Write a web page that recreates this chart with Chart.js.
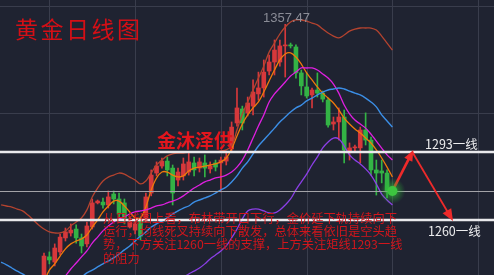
<!DOCTYPE html>
<html>
<head>
<meta charset="utf-8">
<script src="https://cdn.jsdelivr.net/npm/chart.js@4.4.0/dist/chart.umd.min.js"></script>
<style>
html, body { margin: 0; padding: 0; background: #1f2331; }
canvas { display: block; }
</style>
</head>
<body>
<canvas id="myChart" width="494" height="275"></canvas>
<script>
// trading days shown as candles (index 0 = first visible candle)
const days = [0,1,2,3,4,5,6,7,8,9,10,11,12,13,14,15,16,17,18,19,20,21,22,23,24,25,26,27,28,29,
  30,31,32,33,34,35,36,37,38,39,40,41,42,43,44,45,46,47,48,49,50,51,52,53,54,55,56,57,58,59,60,61,62,63,64,65];
// indicator lines start a bit earlier, off the left edge
const lineDays = [-8,-7,-6,-5,-4,-3,-2,-1].concat(days);

const open = [1229.9,1242.1,1239.6,1244.5,1251.3,1253.7,1255.6,1251.3,1248.4,1256.6,
  1268.3,1268.7,1267.3,1272.6,1270.2,1268.3,1256.6,1255.1,1260.0,1261.0,
  1273.1,1282.8,1286.2,1288.6,1285.2,1279.4,1281.4,1283.3,1287.7,1285.2,
  1287.7,1284.8,1287.7,1287.7,1288.6,1294.5,1307.1,1313.9,1312.0,1315.3,
  1321.2,1324.1,1332.3,1336.7,1336.7,1344.5,1345.0,1344.0,1331.4,1324.6,
  1320.7,1323.1,1321.6,1318.2,1306.6,1307.6,1310.0,1293.5,1295.0,1295.0,
  1303.7,1298.8,1284.3,1283.8,1282.8,1274.6];
const high = [1244.0,1244.5,1248.4,1253.2,1256.1,1258.1,1257.6,1253.2,1259.0,1270.2,
  1269.7,1270.7,1274.1,1274.1,1273.1,1270.2,1261.5,1260.5,1261.5,1273.1,
  1284.3,1288.2,1290.1,1290.6,1286.7,1285.2,1290.1,1293.0,1290.6,1290.1,
  1291.6,1288.2,1289.1,1290.6,1292.5,1307.6,1324.1,1315.3,1319.7,1328.0,
  1331.8,1337.7,1340.1,1347.4,1347.4,1355.0,1345.9,1345.0,1332.8,1331.4,
  1324.1,1331.4,1322.6,1319.2,1310.0,1314.4,1313.4,1297.4,1296.4,1305.1,
  1312.0,1300.3,1289.1,1289.1,1284.3,1275.5];
const low = [1228.5,1238.7,1237.7,1243.0,1249.8,1252.2,1248.8,1244.0,1246.9,1255.6,
  1267.8,1265.8,1265.8,1267.8,1261.0,1258.1,1256.1,1253.2,1250.3,1259.0,
  1271.7,1281.4,1285.2,1281.4,1267.3,1276.5,1279.4,1281.8,1281.4,1283.3,
  1280.9,1282.8,1283.8,1273.6,1286.7,1293.0,1305.6,1303.7,1310.5,1311.0,
  1318.2,1319.7,1330.4,1330.4,1334.7,1329.4,1343.5,1328.9,1320.7,1319.2,
  1314.4,1319.7,1317.3,1305.1,1303.7,1298.8,1287.7,1289.1,1293.0,1287.7,
  1296.4,1281.8,1272.1,1278.0,1270.7,1272.6];
const close = [1242.5,1240.6,1246.4,1251.7,1254.2,1255.1,1251.3,1247.4,1257.1,1268.3,
  1269.2,1267.3,1271.2,1270.2,1262.9,1261.0,1259.0,1258.1,1252.2,1271.2,
  1281.8,1286.2,1288.6,1284.3,1273.1,1283.3,1287.2,1288.2,1284.3,1288.2,
  1285.2,1286.2,1285.7,1289.1,1290.6,1305.1,1314.4,1307.1,1316.8,1322.1,
  1324.1,1331.8,1336.7,1342.5,1344.5,1345.0,1344.5,1331.4,1325.1,1320.2,
  1323.1,1321.6,1318.7,1306.1,1307.6,1310.0,1294.0,1295.0,1295.4,1303.7,
  1298.8,1284.3,1282.8,1282.8,1273.6,1274.1];

// Bollinger upper / lower and moving averages (aligned with lineDays)
const bollUpper = [1267.3,1266.8,1266.3,1265.3,1264.4,1262.4,1260.0,1257.6,
  1255.6,1254.2,1253.7,1253.7,1254.7,1257.1,1259.0,1261.0,1264.9,1271.2,
  1275.5,1278.9,1280.8,1281.8,1282.8,1282.3,1280.8,1279.4,1277.5,1278.9,
  1282.8,1286.7,1289.1,1291.1,1292.1,1292.5,1292.5,1293.0,1293.0,1293.0,
  1293.0,1293.0,1293.0,1293.5,1294.0,1295.9,1303.7,1311.5,1317.3,1323.1,
  1328.9,1334.7,1341.5,1345.9,1350.3,1353.7,1356.1,1357.1,1357.1,1356.6,
  1355.6,1354.7,1352.7,1350.8,1349.3,1348.4,1349.8,1351.7,1352.7,1353.2,
  1353.2,1353.2,1352.2,1349.3,1345.9,1342.5];
const ma5 = [null,null,null,null,null,null,null,null,
  1229.9,1235.7,1238.7,1242.5,1246.0,1248.4,1249.8,1250.8,1252.7,1256.6,
  1260.0,1263.9,1266.8,1269.2,1269.2,1266.8,1263.9,1261.0,1261.0,1266.3,
  1274.6,1280.4,1283.3,1283.3,1281.8,1280.9,1281.4,1283.8,1285.2,1285.7,
  1286.2,1286.7,1287.2,1288.2,1290.1,1294.5,1300.8,1306.6,1311.0,1314.4,
  1317.3,1322.1,1327.5,1332.8,1337.7,1340.6,1341.1,1339.1,1335.7,1331.4,
  1328.0,1324.6,1321.6,1319.2,1316.8,1313.4,1309.5,1306.6,1304.2,1302.2,
  1299.8,1297.4,1294.0,1290.1,1285.7,1280.9];
const ma20 = [null,null,null,null,null,null,null,null,
  1221.2,1223.6,1226.5,1229.4,1232.8,1236.2,1239.1,1242.1,1245.0,1248.8,
  1251.7,1254.7,1257.1,1259.0,1260.5,1261.5,1262.9,1263.9,1264.4,1264.9,
  1265.8,1266.8,1267.3,1268.3,1269.2,1270.2,1271.7,1273.6,1275.5,1277.0,
  1278.5,1279.4,1280.4,1280.9,1281.8,1283.3,1285.7,1289.1,1294.0,1299.8,
  1305.6,1311.0,1317.3,1321.2,1324.1,1327.0,1329.9,1331.8,1333.8,1333.8,
  1333.8,1332.8,1330.9,1328.9,1326.0,1321.6,1315.8,1311.5,1308.5,1306.6,
  1304.6,1301.7,1298.3,1294.9,1291.6,1289.1];
const ma60 = [1239.6,1238.2,1236.7,1235.2,1233.8,1232.3,1230.9,1229.9,
  1228.9,1228.0,1227.5,1227.5,1228.0,1228.9,1230.4,1232.3,1234.3,1235.7,
  1237.2,1238.7,1240.1,1241.6,1243.5,1245.5,1247.4,1249.8,1252.2,1254.2,
  1256.6,1258.1,1259.5,1261.0,1262.9,1264.4,1265.8,1266.8,1268.7,1269.7,
  1270.7,1271.7,1273.1,1274.6,1276.0,1278.5,1281.4,1285.2,1288.2,1292.1,
  1295.9,1298.8,1301.7,1304.6,1307.6,1310.0,1312.4,1314.4,1315.8,1317.8,
  1319.2,1320.7,1322.1,1323.1,1323.6,1324.1,1323.6,1322.6,1321.6,1320.7,
  1319.2,1317.3,1314.9,1311.0,1308.1,1305.1];
const bollLower = [null,null,null,null,null,null,null,null,
  null,null,null,null,null,null,null,null,null,null,
  null,null,null,null,null,null,null,null,null,null,
  1221.2,1223.1,1225.0,1227.5,1229.4,1230.9,1232.3,1233.8,1235.2,1236.7,
  1238.7,1241.1,1243.0,1245.0,1247.4,1251.3,1255.6,1260.5,1264.4,1265.3,
  1265.3,1264.4,1263.4,1263.4,1264.9,1267.3,1270.2,1274.6,1278.5,1282.3,
  1286.7,1290.6,1295.0,1297.9,1299.8,1299.3,1295.9,1291.6,1289.1,1287.2,
  1284.8,1281.8,1277.5,1272.6,1269.7,1267.3];

// key levels and the forecast path
const resistance = 1293;
const support = 1260;
const peakLabel = '1357.47';
const arrowDays = [65, 68.9, 76.3];
const arrowPrices = [1274.1, 1294, 1259.5];
const gridX = [1, 17, 33, 49, 65, 81];
const gridY = [1260, 1312, 1364];

const textLines = [
  '从日线图上看，布林带开口下行，金价延下轨持续向下',
  '运行，均线死叉持续向下散发，总体来看依旧是空头趋',
  '势，下方关注1260一线的支撑，上方关注矩线1293一线',
  '的阻力'
];

const RED = '#d6383b';
const GREEN = '#33b345';

function drawArrow(ctx, x1, y1, x2, y2, width, head, half) {
    const a = Math.atan2(y2 - y1, x2 - x1);
    const c = Math.cos(a), s = Math.sin(a);
    ctx.lineWidth = width;
    ctx.beginPath();
    ctx.moveTo(x1, y1);
    ctx.lineTo(x2 - head * 0.8 * c, y2 - head * 0.8 * s);
    ctx.stroke();
    ctx.beginPath();
    ctx.moveTo(x2, y2);
    ctx.lineTo(x2 - head * c + half * s, y2 - head * s - half * c);
    ctx.lineTo(x2 - head * c - half * s, y2 - head * s + half * c);
    ctx.closePath();
    ctx.fill();
}

const decorPlugin = {
    id: 'decor',
    beforeDraw(chart) {
        const ctx = chart.ctx;
        ctx.save();
        ctx.fillStyle = '#1f2331';
        ctx.fillRect(0, 0, chart.width, chart.height);
        ctx.restore();
    },
    beforeDatasetsDraw(chart) {
        const ctx = chart.ctx;
        const xs = chart.scales.x, ys = chart.scales.y;
        ctx.save();
        ctx.strokeStyle = '#393d4c';
        ctx.lineWidth = 1;
        gridX.forEach(v => {
            const px = Math.round(xs.getPixelForValue(v)) + 0.5;
            ctx.beginPath(); ctx.moveTo(px, 0); ctx.lineTo(px, chart.height); ctx.stroke();
        });
        gridY.forEach(v => {
            const py = Math.round(ys.getPixelForValue(v)) + 0.5;
            ctx.beginPath(); ctx.moveTo(0, py); ctx.lineTo(chart.width, py); ctx.stroke();
        });
        ctx.restore();
    },
    afterDatasetsDraw(chart) {
        const ctx = chart.ctx;
        const xs = chart.scales.x, ys = chart.scales.y;
        const W = chart.width;
        ctx.save();

        // current price line
        const last = close[close.length - 1];
        const pyLast = Math.round(ys.getPixelForValue(last)) + 0.5;
        ctx.strokeStyle = '#a3a3a8';
        ctx.lineWidth = 1;
        ctx.beginPath(); ctx.moveTo(0, pyLast); ctx.lineTo(W, pyLast); ctx.stroke();

        // resistance / support lines
        ctx.strokeStyle = '#e9e9ec';
        ctx.lineWidth = 2.5;
        [resistance, support].forEach(v => {
            const py = ys.getPixelForValue(v);
            ctx.beginPath(); ctx.moveTo(0, py); ctx.lineTo(W, py); ctx.stroke();
        });

        // forecast arrows
        const ax = arrowDays.map(d => xs.getPixelForValue(d));
        const ay = arrowPrices.map(p => ys.getPixelForValue(p));
        ctx.strokeStyle = '#ee2a2a';
        ctx.fillStyle = '#ee2a2a';
        drawArrow(ctx, ax[0], ay[0], ax[1], ay[1], 2.6, 11, 4.5);
        drawArrow(ctx, ax[1] - 1, ay[1] + 2, ax[2], ay[2], 1.8, 12, 5);

        // glowing current-price dot
        const dx = xs.getPixelForValue(days[days.length - 1]);
        const dy = ys.getPixelForValue(last);
        const g = ctx.createRadialGradient(dx, dy, 0, dx, dy, 13);
        g.addColorStop(0, 'rgba(70,215,70,0.85)');
        g.addColorStop(0.45, 'rgba(50,190,55,0.45)');
        g.addColorStop(1, 'rgba(40,170,50,0)');
        ctx.fillStyle = g;
        ctx.beginPath(); ctx.arc(dx, dy, 13, 0, Math.PI * 2); ctx.fill();
        ctx.fillStyle = '#3cc43f';
        ctx.beginPath(); ctx.arc(dx, dy, 5, 0, Math.PI * 2); ctx.fill();

        // texts
        ctx.textBaseline = 'middle';
        ctx.textAlign = 'left';
        ctx.fillStyle = '#d40f16';
        ctx.font = '23px "Noto Sans CJK SC"';
        ctx.letterSpacing = '2.5px';
        ctx.fillText('黄金日线图', 15, 29);
        ctx.letterSpacing = '0px';

        ctx.fillStyle = 'rgba(150,152,162,0.9)';
        ctx.font = '13px "Liberation Sans"';
        ctx.fillText(peakLabel, 263, 18);

        ctx.fillStyle = '#e2161d';
        ctx.font = 'bold 19px "Noto Sans CJK SC"';
        ctx.fillText('金沐泽供', 157, 141);

        ctx.fillStyle = '#d0161c';
        ctx.font = '12.25px "Noto Sans CJK SC"';
        textLines.forEach((t, i) => ctx.fillText(t, 103, 218 + i * 13.4));

        ctx.fillStyle = '#ececee';
        ctx.font = '12.5px "Noto Sans CJK SC"';
        ctx.fillText(resistance + '一线', 425, ys.getPixelForValue(resistance) - 8);
        ctx.fillText(support + '一线', 428, ys.getPixelForValue(support) + 11);

        ctx.restore();
    }
};

function lineSet(values, color, width) {
    return {
        type: 'line',
        data: lineDays.map((d, k) => ({ x: d, y: values[k] })),
        borderColor: color,
        borderWidth: width,
        pointRadius: 0,
        tension: 0.35,
        fill: false,
        order: 0
    };
}

const ctx = document.getElementById('myChart').getContext('2d');
new Chart(ctx, {
    type: 'bar',
    data: {
        datasets: [
            {
                label: 'wick',
                data: days.map((d, i) => ({ x: d, y: [low[i], high[i]] })),
                backgroundColor: days.map((d, i) => close[i] >= open[i] ? RED : GREEN),
                barThickness: 1,
                grouped: false,
                order: 2
            },
            {
                label: 'body',
                data: days.map((d, i) => ({ x: d, y: [open[i], close[i]] })),
                backgroundColor: days.map((d, i) => close[i] >= open[i] ? RED : GREEN),
                barThickness: 4,
                minBarLength: 1,
                grouped: false,
                order: 1
            },
            lineSet(bollUpper, '#b4432f', 1.3),
            lineSet(bollLower, '#8b3fe6', 1.3),
            lineSet(ma60, '#3b8ee6', 1.4),
            lineSet(ma20, '#df1fe0', 1.3),
            lineSet(ma5, '#f07a0a', 1.3)
        ]
    },
    options: {
        responsive: false,
        animation: false,
        layout: { padding: 0 },
        plugins: {
            legend: { display: false },
            tooltip: { enabled: false }
        },
        scales: {
            x: { type: 'linear', offset: false, min: -8.21, max: 83.95, display: false },
            y: { min: 1233.3, max: 1366.8, display: false }
        }
    },
    plugins: [decorPlugin]
});
</script>
</body>
</html>
